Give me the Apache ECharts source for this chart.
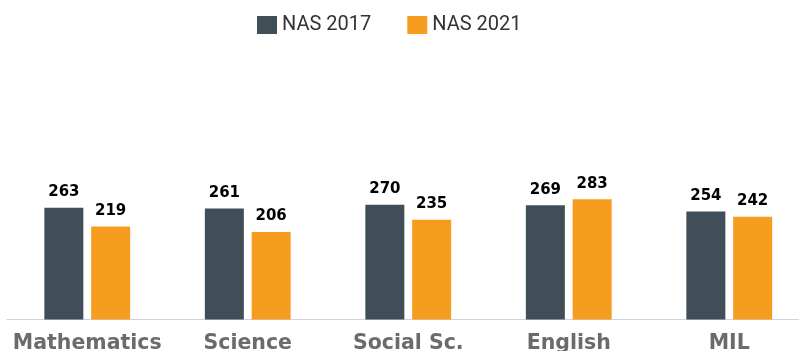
<!DOCTYPE html>
<html>
<head>
<meta charset="utf-8">
<script src="https://cdn.jsdelivr.net/npm/echarts@6/dist/echarts.min.js"></script>
<style>
  html, body { margin: 0; padding: 0; background: #fff; }
  #chart { width: 799px; height: 351px; }
</style>
</head>
<body>
<div id="chart"></div>
<script>
// Subjects and average scores per survey year
const subjects = ['Mathematics', 'Science', 'Social Sc.', 'English', 'MIL'];
const nas2017 = [263, 261, 270, 269, 254];
const nas2021 = [219, 206, 235, 283, 242];
const seriesNames = ['NAS 2017', 'NAS 2021'];

const chart = echarts.init(document.getElementById('chart'));

const labelStyle = {
  show: true,
  position: 'top',
  distance: 8,
  color: '#000',
  fontFamily: 'DejaVu Sans',
  fontWeight: 'bold',
  fontSize: 15
};

chart.setOption({
  animation: false,
  legend: {
    top: 10,
    left: 252,
    itemWidth: 20,
    itemHeight: 18,
    itemGap: 36,
    icon: 'rect',
    textStyle: { fontFamily: 'Roboto', fontSize: 20, color: '#333' },
    data: seriesNames
  },
  // the plot runs a little past the right edge of the canvas
  grid: {
    left: 7, width: 802.5, top: 64.5, bottom: 31.5,
    containLabel: false,
    outerBoundsMode: 'none'
  },
  xAxis: {
    type: 'category',
    data: subjects,
    axisLine: { lineStyle: { color: '#ccd3e3', width: 1 } },
    axisTick: { show: false },
    axisLabel: {
      interval: 0,
      margin: 14,
      color: '#6b6b6b',
      fontFamily: 'DejaVu Sans',
      fontWeight: 'bold',
      fontSize: 20.5
    }
  },
  yAxis: {
    type: 'value',
    min: 0,
    max: 600,
    show: false,
    splitLine: { show: false }
  },
  series: [
    {
      name: seriesNames[0],
      type: 'bar',
      data: nas2017,
      barWidth: 39,
      barGap: '20%',
      itemStyle: { color: '#404e58' },
      label: labelStyle
    },
    {
      name: seriesNames[1],
      type: 'bar',
      data: nas2021,
      barWidth: 39,
      itemStyle: { color: '#f69d1f' },
      label: labelStyle
    }
  ]
});
</script>
</body>
</html>
